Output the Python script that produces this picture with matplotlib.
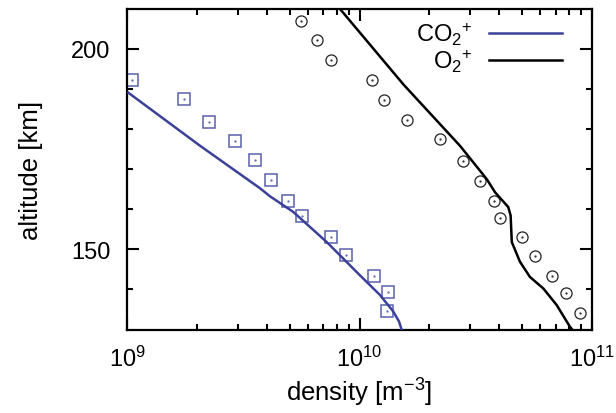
import matplotlib
matplotlib.use("Agg")
import matplotlib.pyplot as plt
from matplotlib.ticker import LogLocator, FixedLocator, NullFormatter
import numpy as np

plt.rcParams['font.family'] = ['Liberation Sans', 'DejaVu Sans']
plt.rcParams['mathtext.fontset'] = 'custom'
plt.rcParams['mathtext.rm'] = 'Liberation Sans'
plt.rcParams['mathtext.it'] = 'Liberation Sans'

# CO2+ model line (log10 density m^-3, altitude km)
co2_line_log = [9.006, 9.314, 9.572, 9.615, 9.715, 9.859, 10.002, 10.088, 10.145, 10.170, 10.181]
co2_line_alt = [189.0, 175.8, 165.2, 163.2, 159.3, 151.8, 143.5, 138.6, 134.5, 132.0, 130.0]

# O2+ model line
o2_line_log = [9.916, 10.190, 10.432, 10.547, 10.583, 10.640, 10.650, 10.655, 10.690, 10.733, 10.791, 10.848, 10.905, 10.915]
o2_line_alt = [209.9, 191.0, 175.8, 167.5, 164.2, 160.5, 158.4, 151.8, 146.9, 143.1, 140.2, 136.1, 130.7, 130.0]

# CO2+ data (squares)
co2_pts_dens = [1.05e9, 1.75e9, 2.25e9, 2.90e9, 3.57e9, 4.15e9, 4.92e9, 5.66e9, 7.54e9, 8.72e9, 1.15e10, 1.32e10, 1.31e10]
co2_pts_alt = [192.3, 187.4, 181.8, 176.9, 172.2, 167.2, 162.1, 158.2, 153.1, 148.5, 143.3, 139.4, 134.5]

# O2+ data (circles)
o2_pts_dens = [5.58e9, 6.54e9, 7.57e9, 1.13e10, 1.27e10, 1.60e10, 2.23e10, 2.79e10, 3.30e10, 3.79e10, 4.02e10, 4.99e10, 5.69e10, 6.73e10, 7.73e10, 8.87e10]
o2_pts_alt = [206.9, 202.2, 197.2, 192.2, 187.2, 182.1, 177.4, 172.1, 167.0, 162.0, 157.8, 153.0, 148.4, 143.3, 139.2, 134.0]

blue = '#3b4199'
sq_col = '#5a60ae'

fig = plt.figure(figsize=(6.16, 4.14), dpi=100)
ax = fig.add_axes([127/616, 1-330.5/414, (592-127)/616, (330.5-9.5)/414])

ax.plot(np.power(10.0, co2_line_log), co2_line_alt, color=blue, lw=1.8,
        label=r'$\mathrm{CO}_2{}^{+}$', zorder=3)
ax.plot(np.power(10.0, o2_line_log), o2_line_alt, color='black', lw=1.8,
        label=r'$\mathrm{O}_2{}^{+}$', zorder=3)

ax.plot(co2_pts_dens, co2_pts_alt, linestyle='none', marker='s', markersize=8.6,
        markerfacecolor='none', markeredgecolor=sq_col, markeredgewidth=1.1, zorder=2)
ax.plot(co2_pts_dens, co2_pts_alt, linestyle='none', marker='.', markersize=1.2, color=sq_col, zorder=2)
ax.plot(o2_pts_dens, o2_pts_alt, linestyle='none', marker='o', markersize=8.0,
        markerfacecolor='none', markeredgecolor='#222222', markeredgewidth=0.9, zorder=2)
ax.plot(o2_pts_dens, o2_pts_alt, linestyle='none', marker='.', markersize=1.2, color='#222222', zorder=2)

ax.set_xscale('log')
ax.set_xlim(1e9, 1e11)
ax.set_ylim(130, 210)

ax.yaxis.set_major_locator(FixedLocator([150, 200]))
ax.yaxis.set_minor_locator(FixedLocator([140, 160, 170, 180, 190]))
ax.xaxis.set_minor_locator(LogLocator(base=10, subs=np.arange(2, 10)))
ax.xaxis.set_minor_formatter(NullFormatter())

ax.tick_params(which='both', direction='in', top=True, right=True, labelsize=17, width=1.5)
ax.tick_params(axis='y', which='major', length=8.5, pad=12)
ax.tick_params(axis='x', which='major', length=8.5, pad=12)
ax.tick_params(which='minor', length=4.5)
for s in ax.spines.values():
    s.set_linewidth(1.6)

ax.set_xlabel(r'density [m$^{\mathrm{-3}}$]', fontsize=18.5, labelpad=3)
ax.set_ylabel('altitude [km]', fontsize=18.5, labelpad=20)

leg = ax.legend(loc='upper right', bbox_to_anchor=(0.9355, 0.963), frameon=False,
                markerfirst=False, fontsize=17,
                handlelength=3.1, handletextpad=0.7, labelspacing=0.0,
                borderaxespad=0.0, borderpad=0.0)
for t in leg.get_texts():
    t.set_ha('right')

fig.savefig('out.png', dpi=100)
